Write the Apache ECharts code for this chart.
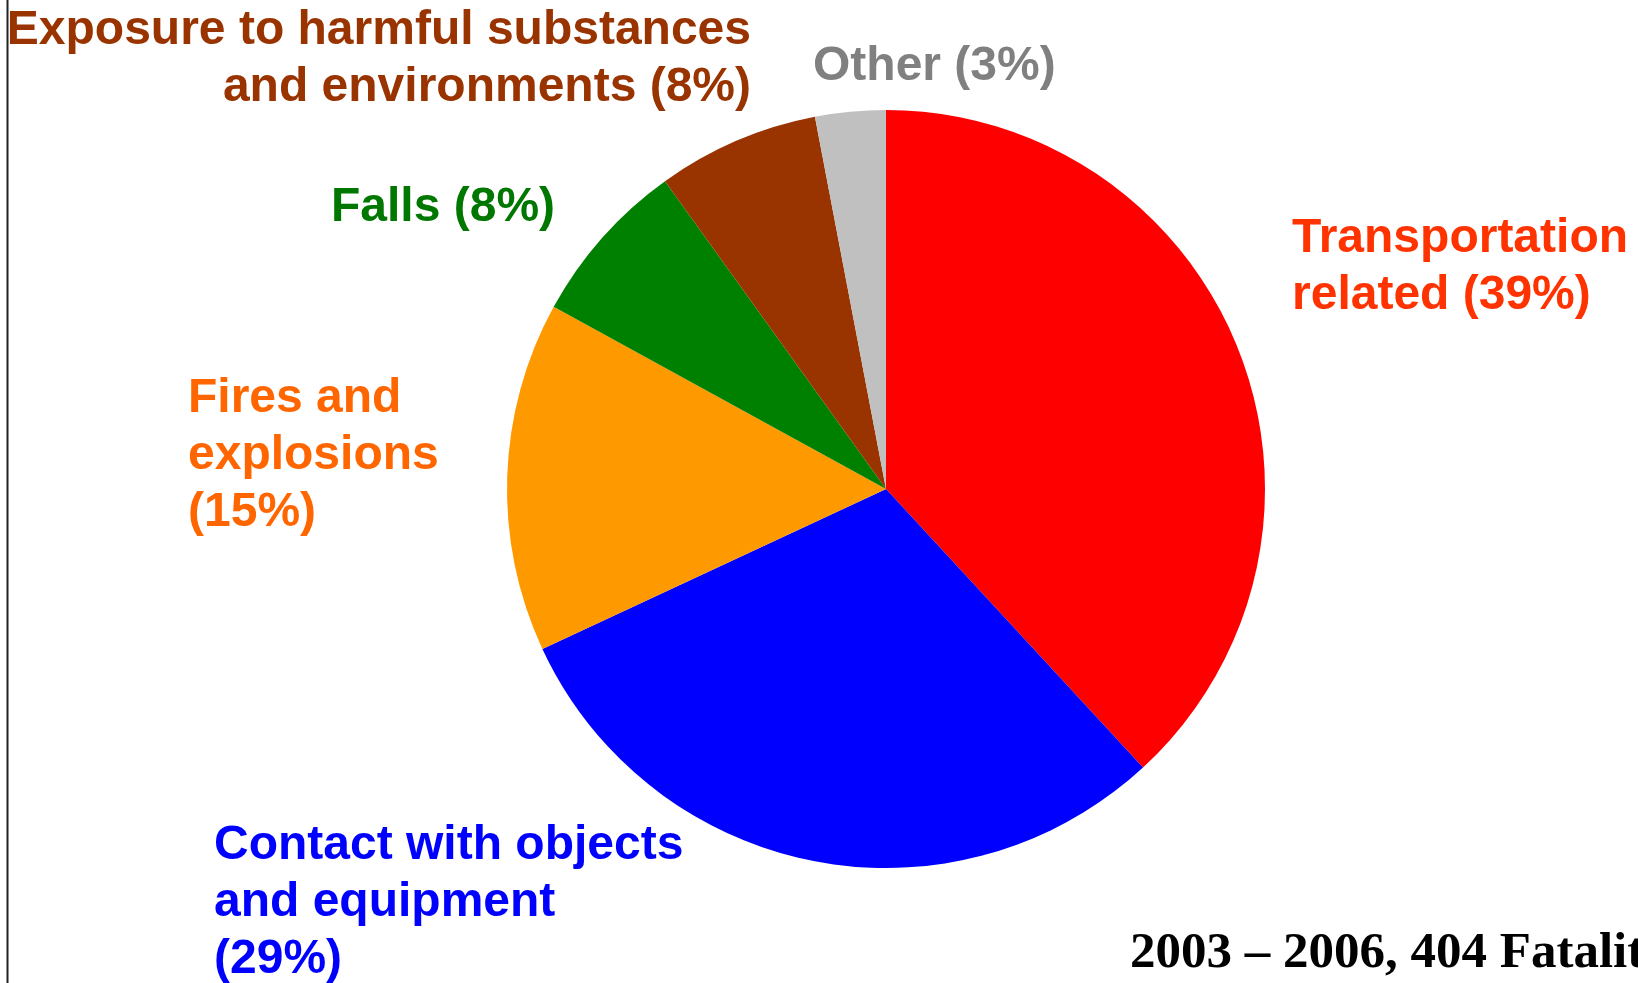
<!DOCTYPE html>
<html>
<head>
<meta charset="utf-8">
<script src="https://cdn.jsdelivr.net/npm/echarts@6/dist/echarts.min.js"></script>
<style>
html,body{margin:0;padding:0;background:#fff;}
#chart{width:1638px;height:983px;}
</style>
</head>
<body>
<div id="chart"></div>
<script>
// ---- data ----
var categories = ['Transportation related', 'Contact with objects and equipment', 'Fires and explosions', 'Falls', 'Exposure to harmful substances and environments', 'Other'];
var shares = [38.1, 29.9, 14.9, 7.1, 6.9, 3.0];
var labelTexts = [
  'Transportation\nrelated (39%)',
  'Contact with objects\nand equipment\n(29%)',
  'Fires and\nexplosions\n(15%)',
  'Falls (8%)',
  'Exposure to harmful substances\nand environments (8%)',
  'Other (3%)'
];
var footnote = '2003 \u2013 2006, 404 Fatalities';

// ---- styles ----
var sliceColors = ['#FF0000', '#0000FF', '#FF9900', '#008000', '#993300', '#C0C0C0'];
var labelColors = ['#FF3300', '#0000FF', '#FF6600', '#007700', '#993300', '#808080'];
var labelLayout = [
  {x: 1292, y: 239, align: 'left'},
  {x: 214, y: 846, align: 'left'},
  {x: 188, y: 399, align: 'left'},
  {x: 331, y: 208, align: 'left'},
  {x: 751, y: 31, align: 'right'},
  {x: 813, y: 67, align: 'left'}
];
var LH = 57;

var chart = echarts.init(document.getElementById('chart'));
var graphics = [{
  type: 'line',
  shape: {x1: 7.5, y1: 0, x2: 7.5, y2: 983},
  style: {stroke: '#222', lineWidth: 2}
}];
labelTexts.forEach(function (t, i) {
  var L = labelLayout[i];
  graphics.push({
    type: 'text',
    x: L.x,
    y: L.y - LH / 2,
    style: {
      text: t,
      fill: labelColors[i],
      font: 'bold 48px "Liberation Sans", Arial, sans-serif',
      lineHeight: LH,
      align: L.align,
      verticalAlign: 'top'
    }
  });
});
graphics.push({
  type: 'text',
  x: 1130,
  y: 954,
  style: {
    text: footnote,
    fill: '#000',
    font: 'bold 51px "Liberation Serif", "Times New Roman", serif',
    align: 'left',
    verticalAlign: 'middle'
  }
});

chart.setOption({
  animation: false,
  backgroundColor: '#fff',
  graphic: graphics,
  series: [{
    type: 'pie',
    center: [886, 489],
    radius: [0, 379],
    startAngle: 90,
    clockwise: true,
    label: {show: false},
    labelLine: {show: false},
    emphasis: {disabled: true},
    itemStyle: {borderWidth: 0},
    data: categories.map(function (c, i) {
      return {name: c, value: shares[i], itemStyle: {color: sliceColors[i]}};
    })
  }]
});
</script>
</body>
</html>
